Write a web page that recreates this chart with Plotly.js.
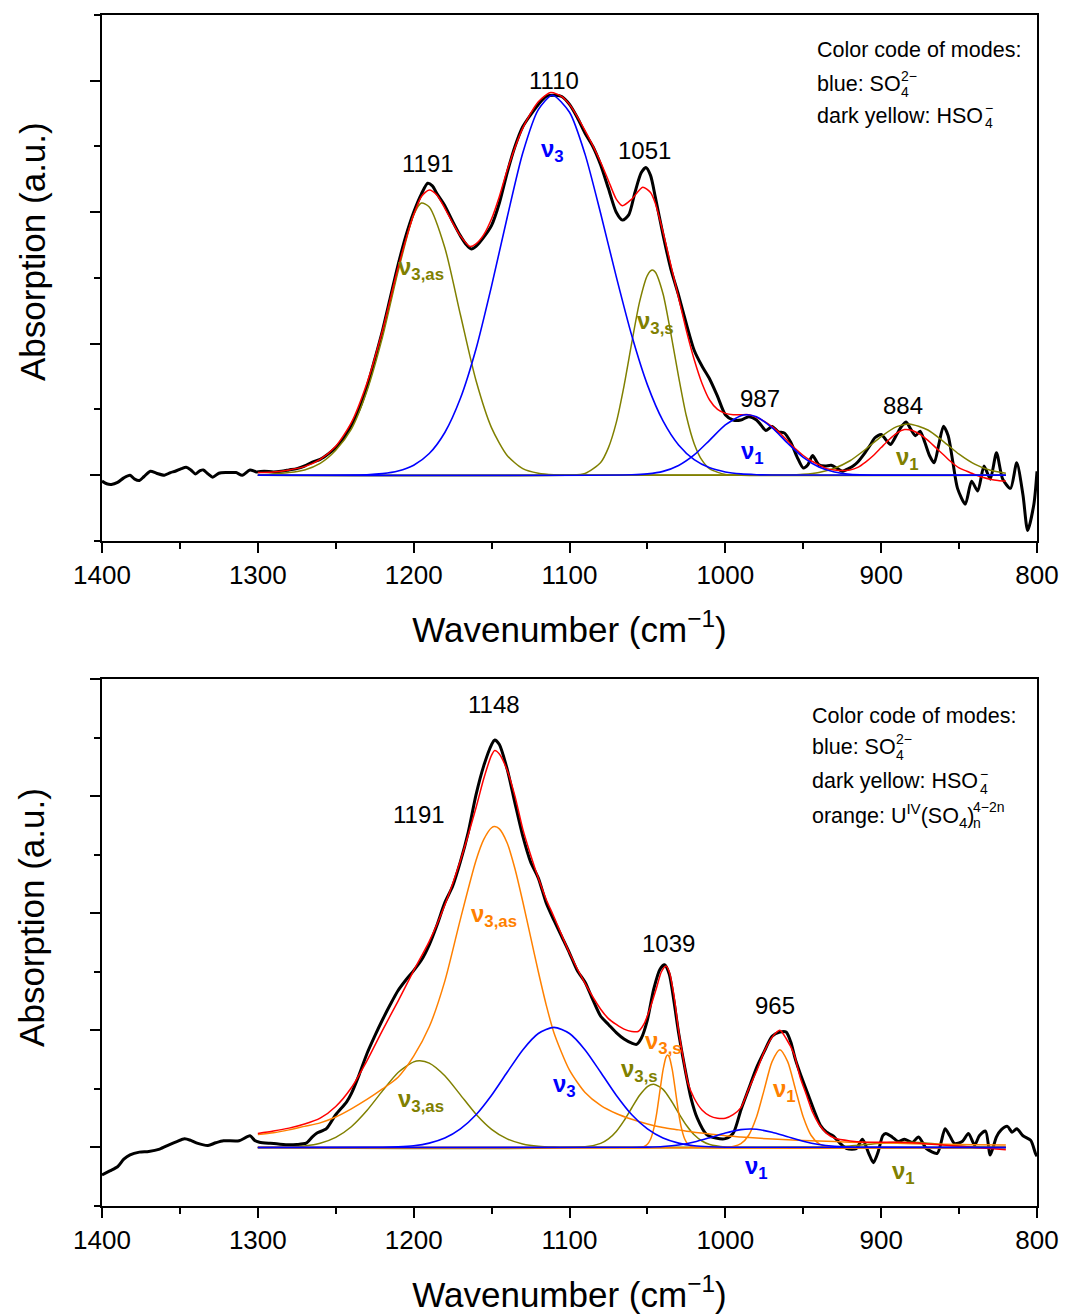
<!DOCTYPE html>
<html>
<head>
<meta charset="utf-8">
<script src="https://cdn.plot.ly/plotly-3.0.1.min.js"></script>
<style>html,body{margin:0;padding:0;background:#fff;}#chart{width:1065px;height:1314px;}</style>
</head>
<body>
<div id="chart"></div>
<script>
// ---------- TOP PANEL DATA ----------
const topExpWn = [1400,1397,1394,1390,1386,1382,1379,1376,1373,1369,1365,1360,1356,1353,1349,1346,1343,1340,1337,1335,1332,1329,1325,1320,1314,1310,1305,1301,1296,1290,1285,1280,1275,1270,1265,1260,1255,1250,1245,1240,1235,1230,1225,1220,1215,1210,1205,1200,1195,1191,1188,1185,1180,1175,1170,1166,1163,1160,1155,1150,1145,1140,1135,1130,1125,1120,1115,1110,1105,1100,1095,1090,1085,1080,1075,1070,1066,1062,1058,1054,1051,1048,1045,1040,1035,1030,1025,1020,1015,1010,1005,1000,995,990,985,980,977,974,970,966,962,958,954,950,947,944,940,936,932,928,925,921,918,915,911,907,904,900,897,894,890,887,884,881,878,875,872,869,866,863,860,857,854,851,846,842,838,834,830,826,822,817,813,809,806,802,800];
const topExpAbs = [-0.045,-0.065,-0.07,-0.055,-0.02,0.0,-0.03,-0.04,-0.01,0.03,0.015,0.0,0.02,0.03,0.05,0.06,0.04,0.01,0.035,0.04,0.01,-0.015,0.015,0.02,0.02,0.0,0.04,0.025,0.03,0.025,0.03,0.04,0.05,0.07,0.1,0.12,0.16,0.21,0.28,0.38,0.5,0.67,0.88,1.1,1.35,1.6,1.82,2.0,2.14,2.22,2.2,2.14,2.05,1.93,1.82,1.75,1.72,1.74,1.81,1.9,2.07,2.3,2.5,2.65,2.74,2.82,2.88,2.89,2.88,2.82,2.72,2.6,2.5,2.36,2.18,2.0,1.94,1.98,2.15,2.3,2.34,2.28,2.12,1.83,1.57,1.37,1.15,0.95,0.83,0.73,0.6,0.46,0.42,0.42,0.445,0.42,0.38,0.34,0.37,0.33,0.32,0.25,0.14,0.055,0.08,0.15,0.08,0.07,0.075,0.05,0.03,0.05,0.07,0.1,0.16,0.23,0.285,0.31,0.27,0.234,0.31,0.37,0.405,0.35,0.3,0.335,0.25,0.15,0.094,0.234,0.373,0.3,0.1,-0.1,-0.22,-0.045,-0.12,0.07,-0.03,0.17,-0.03,-0.1,0.094,-0.15,-0.42,-0.22,0.03];

const topFitWn = [1300,1290,1280,1270,1260,1250,1240,1230,1220,1210,1200,1195,1190,1185,1180,1175,1170,1164,1160,1155,1150,1145,1140,1130,1120,1112,1105,1100,1090,1080,1075,1070,1066,1060,1053,1048,1045,1040,1035,1030,1025,1020,1015,1010,1005,1000,995,990,985,980,975,970,965,960,955,950,945,940,935,930,925,920,915,910,905,900,895,890,885,880,875,870,865,860,855,850,845,840,835,830,825,820];
const topFitAbs = [0.02,0.025,0.04,0.065,0.12,0.22,0.40,0.70,1.10,1.58,1.98,2.12,2.17,2.13,2.03,1.92,1.82,1.74,1.76,1.83,1.95,2.12,2.32,2.64,2.84,2.91,2.88,2.82,2.62,2.38,2.24,2.1,2.05,2.1,2.19,2.15,2.07,1.85,1.6,1.35,1.1,0.88,0.7,0.57,0.5,0.47,0.46,0.46,0.46,0.44,0.41,0.37,0.32,0.26,0.2,0.15,0.11,0.08,0.05,0.04,0.035,0.04,0.06,0.1,0.15,0.21,0.27,0.32,0.347,0.34,0.31,0.265,0.21,0.155,0.1,0.055,0.03,0.005,-0.015,-0.03,-0.04,-0.045];

// HSO4- nu3,as (dark yellow)
const topHso4Nu3asWn = [1300,1290,1280,1270,1260,1250,1240,1230,1220,1210,1200,1195,1190,1180,1170,1160,1150,1140,1130,1120,1110,1100,820];
const topHso4Nu3asAbs = [0,0.01,0.02,0.04,0.09,0.19,0.35,0.64,1.05,1.55,1.98,2.07,2.04,1.73,1.22,0.72,0.36,0.15,0.05,0.015,0.003,0,0];
// SO4 2- nu3 (blue)
const topSo4Nu3Wn = [1300,1230,1220,1210,1200,1190,1180,1170,1160,1150,1140,1130,1120,1111,1100,1090,1080,1070,1060,1050,1040,1030,1020,1010,1000,990,980,970,820];
const topSo4Nu3Abs = [0,0.004,0.012,0.032,0.076,0.165,0.325,0.585,0.96,1.44,1.96,2.45,2.78,2.89,2.76,2.44,1.99,1.51,1.06,0.687,0.413,0.23,0.118,0.056,0.025,0.01,0.004,0.001,0];
// HSO4- nu3,s (dark yellow)
const topHso4Nu3sWn = [1300,1100,1090,1080,1075,1070,1065,1060,1055,1050,1047,1045,1040,1035,1030,1025,1020,1015,1010,1000,990,820];
const topHso4Nu3sAbs = [0,0.001,0.014,0.097,0.21,0.40,0.68,1.01,1.32,1.52,1.56,1.545,1.38,1.08,0.75,0.45,0.24,0.114,0.048,0.006,0,0];
// SO4 2- nu1 (blue)
const topSo4Nu1Wn = [1300,1060,1050,1040,1030,1020,1010,1000,990,986,980,970,960,950,940,930,920,910,900,820];
const topSo4Nu1Abs = [0,0.003,0.01,0.029,0.074,0.154,0.267,0.382,0.453,0.46,0.444,0.361,0.243,0.135,0.062,0.024,0.0075,0.002,0,0];
// HSO4- nu1 (dark yellow)
const topHso4Nu1Wn = [1300,960,950,940,930,920,910,900,890,882,870,860,850,840,830,820];
const topHso4Nu1Abs = [0,0.002,0.007,0.021,0.053,0.11,0.197,0.294,0.369,0.39,0.344,0.256,0.16,0.084,0.037,0.014];

// ---------- BOTTOM PANEL DATA ----------
const botExpWn = [1400,1395,1390,1386,1382,1376,1370,1363,1357,1352,1347,1343,1339,1332,1327,1322,1312,1305,1302,1299,1292,1288,1280,1275,1269,1265,1262,1256,1250,1243,1240,1235,1230,1225,1220,1215,1210,1205,1200,1195,1190,1185,1180,1175,1170,1165,1160,1155,1150,1148,1145,1140,1135,1130,1125,1120,1115,1110,1105,1100,1095,1090,1085,1080,1075,1070,1065,1060,1057,1054,1050,1046,1042,1039,1036,1033,1030,1026,1022,1018,1012,1006,1000,995,990,985,980,975,970,965,961,958,955,950,946,942,939,935,931,926,922,916,912,908,905,902,899,897,893,889,885,880,876,871,864,859,856,853,848,844,840,837,833,830,826,823,819,816,813,809,804,801,800];
const botExpAbs = [-0.235,-0.2,-0.165,-0.1,-0.063,-0.04,-0.034,-0.014,0.022,0.05,0.074,0.06,0.037,0.017,0.04,0.057,0.057,0.1,0.06,0.045,0.035,0.031,0.022,0.025,0.037,0.09,0.123,0.16,0.28,0.39,0.46,0.62,0.8,0.95,1.09,1.22,1.34,1.43,1.51,1.6,1.73,1.9,2.09,2.23,2.44,2.69,3.01,3.26,3.44,3.48,3.44,3.23,2.94,2.66,2.44,2.3,2.09,1.94,1.8,1.66,1.51,1.41,1.26,1.12,1.05,0.98,0.925,0.89,0.88,0.93,1.09,1.35,1.52,1.56,1.48,1.25,0.98,0.68,0.42,0.25,0.11,0.08,0.075,0.12,0.32,0.5,0.68,0.82,0.95,0.985,0.985,0.9,0.75,0.56,0.42,0.28,0.19,0.13,0.1,0.03,-0.01,-0.01,0.07,-0.05,-0.13,-0.04,0.1,0.12,0.09,0.05,0.07,0.043,0.09,-0.009,-0.05,0.16,0.1,0.034,0.05,0.12,0.02,0.1,0.14,-0.065,0.09,0.15,0.18,0.13,0.16,0.1,0.06,-0.05,-0.075];

const botFitWn = [1300,1290,1280,1270,1260,1250,1240,1230,1220,1210,1200,1190,1180,1170,1160,1155,1150,1148,1145,1140,1135,1130,1125,1120,1115,1110,1100,1090,1080,1075,1070,1065,1060,1056,1052,1048,1044,1041,1038,1036,1033,1030,1027,1024,1020,1015,1010,1005,1000,995,990,985,980,975,970,965,961,956,952,948,944,940,935,930,920,910,900,890,880,870,860,850,840,830,820];
const botFitAbs = [0.12,0.14,0.165,0.2,0.25,0.35,0.51,0.74,1.0,1.25,1.51,1.76,2.07,2.45,2.9,3.15,3.35,3.39,3.36,3.22,3.0,2.72,2.5,2.3,2.12,1.97,1.66,1.4,1.18,1.1,1.05,1.01,0.99,0.99,1.06,1.2,1.37,1.5,1.55,1.5,1.3,1.0,0.76,0.55,0.42,0.32,0.27,0.25,0.25,0.28,0.34,0.5,0.65,0.82,0.94,1.0,0.93,0.8,0.6,0.45,0.3,0.2,0.12,0.08,0.055,0.045,0.045,0.045,0.04,0.03,0.02,0.01,0.0,-0.01,-0.02];

// U(IV) sulfate complex nu3,as (orange)
const botUNu3asWn = [1300,1290,1280,1270,1260,1250,1240,1230,1220,1210,1200,1190,1180,1170,1160,1155,1150,1148,1145,1140,1135,1130,1125,1120,1115,1110,1100,1090,1080,1070,1060,1050,1040,1030,1020,1010,1000,990,980,960,940,920,900,880,860,840,820];
const botUNu3asAbs = [0.11,0.125,0.15,0.18,0.21,0.26,0.33,0.41,0.5,0.6,0.78,1.03,1.42,1.95,2.45,2.63,2.73,2.74,2.72,2.6,2.38,2.1,1.8,1.5,1.22,0.98,0.66,0.47,0.36,0.29,0.24,0.2,0.17,0.15,0.13,0.115,0.1,0.09,0.08,0.065,0.055,0.045,0.038,0.032,0.027,0.023,0.02];
// HSO4- nu3,as (dark yellow)
const botHso4Nu3asWn = [1300,1290,1280,1270,1260,1250,1240,1230,1220,1210,1200,1196,1190,1180,1170,1160,1150,1140,1130,1120,1110,1100,820];
const botHso4Nu3asAbs = [0,0.001,0.004,0.013,0.036,0.086,0.177,0.315,0.483,0.64,0.731,0.74,0.72,0.612,0.449,0.284,0.155,0.073,0.03,0.01,0.003,0.001,0];
// SO4 2- nu3 (blue)
const botSo4Nu3Wn = [1300,1220,1210,1200,1190,1180,1170,1160,1150,1140,1130,1120,1110,1100,1090,1080,1070,1060,1050,1040,1030,1020,1010,1000,820];
const botSo4Nu3Abs = [0,0.002,0.006,0.015,0.037,0.08,0.158,0.279,0.446,0.642,0.833,0.973,1.025,0.973,0.833,0.642,0.446,0.279,0.158,0.08,0.037,0.015,0.006,0.002,0];
// HSO4- nu3,s (dark yellow)
const botHso4Nu3sWn = [1300,1090,1080,1075,1070,1065,1060,1055,1050,1046,1040,1035,1030,1025,1020,1015,1010,1000,990,820];
const botHso4Nu3sAbs = [0,0.005,0.035,0.073,0.137,0.229,0.339,0.445,0.52,0.54,0.496,0.405,0.294,0.189,0.108,0.055,0.025,0.004,0,0];
// U(IV) nu3,s (orange)
const botUNu3sWn = [1300,1056,1054,1052,1050,1048,1046,1044,1042,1040,1038,1037,1036,1034,1032,1030,1028,1026,1024,1022,1020,820];
const botUNu3sAbs = [0,0.0006,0.002,0.009,0.027,0.07,0.156,0.296,0.48,0.66,0.774,0.79,0.774,0.66,0.48,0.296,0.156,0.07,0.027,0.009,0.002,0];
// U(IV) nu1 (orange)
const botUNu1Wn = [1300,1000,995,990,985,980,975,970,965,960,955,950,945,940,935,930,820];
const botUNu1Abs = [0,0.001,0.008,0.032,0.104,0.259,0.496,0.733,0.835,0.733,0.496,0.259,0.104,0.032,0.008,0.001,0];
// SO4 2- nu1 (blue)
const botSo4Nu1Wn = [1300,1060,1050,1040,1030,1020,1010,1000,990,984,980,970,960,950,940,930,920,910,820];
const botSo4Nu1Abs = [0,0.001,0.003,0.008,0.021,0.046,0.083,0.123,0.152,0.157,0.155,0.13,0.091,0.053,0.025,0.01,0.003,0.001,0];
// HSO4- nu1 (dark yellow)
const botHso4Nu1Wn = [1300,950,940,930,920,910,900,890,885,880,870,860,850,840,830,820];
const botHso4Nu1Abs = [0,0.0006,0.002,0.0055,0.013,0.024,0.036,0.044,0.045,0.044,0.036,0.024,0.013,0.0055,0.002,0.0006];

// peak labels
const topPeakText = ['1191','1110','1051','987','884'];
const topPeakX = [1191,1110,1052,978,886];
const topPeakY = [2.37,3.0,2.47,0.585,0.53];
const botPeakText = ['1148','1191','1039','965'];
const botPeakX = [1148.6,1196.8,1036.3,968.3];
const botPeakY = [3.78,2.84,1.74,1.21];

// ---------- STYLE ----------
const FONT = 'Liberation Sans, Arial, Helvetica, sans-serif';
const BLUE = '#0000ff', OLIVE = '#808000', ORANGE = '#ff8000', RED = '#ff0000', BLACK = '#000000';

function line(x, y, color, width, xa, ya) {
  return {x: x, y: y, type: 'scatter', mode: 'lines', xaxis: xa, yaxis: ya,
    line: {color: color, width: width, shape: 'spline', smoothing: 0.7},
    hoverinfo: 'skip', showlegend: false};
}

const traces = [
  line(topExpWn, topExpAbs, BLACK, 3, 'x', 'y'),
  line(topHso4Nu3asWn, topHso4Nu3asAbs, OLIVE, 1.5, 'x', 'y'),
  line(topHso4Nu3sWn, topHso4Nu3sAbs, OLIVE, 1.5, 'x', 'y'),
  line(topHso4Nu1Wn, topHso4Nu1Abs, OLIVE, 1.5, 'x', 'y'),
  line(topFitWn, topFitAbs, RED, 1.5, 'x', 'y'),
  line(topSo4Nu3Wn, topSo4Nu3Abs, BLUE, 1.6, 'x', 'y'),
  line(topSo4Nu1Wn, topSo4Nu1Abs, BLUE, 1.6, 'x', 'y'),

  line(botExpWn, botExpAbs, BLACK, 3, 'x2', 'y2'),
  line(botHso4Nu3asWn, botHso4Nu3asAbs, OLIVE, 1.5, 'x2', 'y2'),
  line(botHso4Nu3sWn, botHso4Nu3sAbs, OLIVE, 1.5, 'x2', 'y2'),
  line(botHso4Nu1Wn, botHso4Nu1Abs, OLIVE, 1.5, 'x2', 'y2'),
  line(botUNu3asWn, botUNu3asAbs, ORANGE, 1.5, 'x2', 'y2'),
  line(botUNu3sWn, botUNu3sAbs, ORANGE, 1.5, 'x2', 'y2'),
  line(botUNu1Wn, botUNu1Abs, ORANGE, 1.5, 'x2', 'y2'),
  line(botFitWn, botFitAbs, RED, 1.5, 'x2', 'y2'),
  line(botSo4Nu3Wn, botSo4Nu3Abs, BLUE, 1.6, 'x2', 'y2'),
  line(botSo4Nu1Wn, botSo4Nu1Abs, BLUE, 1.6, 'x2', 'y2')
];

function xAxisDef(anchor) {
  return {
    anchor: anchor, domain: [0, 1], range: [1400, 800], autorange: false,
    showline: true, linewidth: 2, linecolor: BLACK, mirror: true,
    ticks: 'outside', ticklen: 10, tickwidth: 2, tickcolor: BLACK,
    tick0: 800, dtick: 100, ticklabelstandoff: 0,
    tickfont: {family: FONT, size: 26, color: BLACK},
    showgrid: false, zeroline: false,
    minor: {ticks: 'outside', ticklen: 6, tickwidth: 2, tickcolor: BLACK, dtick: 50, tick0: 800, showgrid: false},
    title: {text: 'Wavenumber (cm<sup>−1</sup>)', font: {family: FONT, size: 35, color: BLACK}, standoff: 28}
  };
}
function yAxisDef(anchor, domain, range) {
  return {
    anchor: anchor, domain: domain, range: range, autorange: false,
    showline: true, linewidth: 2, linecolor: BLACK, mirror: true,
    ticks: 'outside', ticklen: 10, tickwidth: 2, tickcolor: BLACK,
    tick0: 0, dtick: 1, showticklabels: false,
    showgrid: false, zeroline: false,
    minor: {ticks: 'outside', ticklen: 6, tickwidth: 2, tickcolor: BLACK, dtick: 0.5, tick0: 0, showgrid: false}
  };
}

const ann = [];
function addText(xa, ya, x, y, text, size, color, anchor) {
  ann.push({xref: xa, yref: ya, x: x, y: y, text: text, showarrow: false,
    xanchor: anchor || 'center', yanchor: 'middle',
    font: {family: FONT, size: size, color: color}});
}
// y-axis titles (placed as rotated text so they sit where the reference has them)
const Y_TITLE = 'Absorption (a.u.)';
ann.push({xref: 'paper', yref: 'paper', x: -0.0749, y: 0.8018, text: Y_TITLE, textangle: -90,
  showarrow: false, xanchor: 'center', yanchor: 'middle', font: {family: FONT, size: 35, color: BLACK}});
ann.push({xref: 'paper', yref: 'paper', x: -0.0749, y: 0.2427, text: Y_TITLE, textangle: -90,
  showarrow: false, xanchor: 'center', yanchor: 'middle', font: {family: FONT, size: 35, color: BLACK}});

topPeakText.forEach((t, i) => addText('x', 'y', topPeakX[i], topPeakY[i], t, 24, BLACK));
botPeakText.forEach((t, i) => addText('x2', 'y2', botPeakX[i], botPeakY[i], t, 24, BLACK));

// mode labels
addText('x', 'y', 1110.8, 2.47, '<b>ν<sub>3</sub></b>', 24, BLUE);
addText('x', 'y', 1195.5, 1.57, '<b>ν<sub>3,as</sub></b>', 24, OLIVE);
addText('x', 'y', 1045, 1.16, '<b>ν<sub>3,s</sub></b>', 24, OLIVE);
addText('x', 'y', 982.4, 0.175, '<b>ν<sub>1</sub></b>', 24, BLUE);
addText('x', 'y', 883, 0.13, '<b>ν<sub>1</sub></b>', 24, OLIVE);

addText('x2', 'y2', 1148.6, 1.98, '<b>ν<sub>3,as</sub></b>', 24, ORANGE);
addText('x2', 'y2', 1195.5, 0.40, '<b>ν<sub>3,as</sub></b>', 24, OLIVE);
addText('x2', 'y2', 1103, 0.53, '<b>ν<sub>3</sub></b>', 24, BLUE);
addText('x2', 'y2', 1039.5, 0.9, '<b>ν<sub>3,s</sub></b>', 24, ORANGE);
addText('x2', 'y2', 1055, 0.66, '<b>ν<sub>3,s</sub></b>', 24, OLIVE);
addText('x2', 'y2', 961.8, 0.49, '<b>ν<sub>1</sub></b>', 24, ORANGE);
addText('x2', 'y2', 979.8, -0.17, '<b>ν<sub>1</sub></b>', 24, BLUE);
addText('x2', 'y2', 885.4, -0.21, '<b>ν<sub>1</sub></b>', 24, OLIVE);

// colour-code notes (top)
addText('x', 'y', 942.3, 3.235, 'Color code of modes:', 21.5, BLACK, 'left');
addText('x', 'y', 942.3, 2.975, 'blue: SO', 21.5, BLACK, 'left');
addText('x', 'y', 888.5, 3.035, '2−', 14, BLACK, 'left');
addText('x', 'y', 888.5, 2.915, '4', 14, BLACK, 'left');
addText('x', 'y', 942.3, 2.735, 'dark yellow: HSO', 21.5, BLACK, 'left');
addText('x', 'y', 834.5, 2.79, '−', 14, BLACK, 'left');
addText('x', 'y', 834.5, 2.675, '4', 14, BLACK, 'left');

// colour-code notes (bottom)
addText('x2', 'y2', 945.7, 3.68, 'Color code of modes:', 21.5, BLACK, 'left');
addText('x2', 'y2', 945.7, 3.42, 'blue: SO', 21.5, BLACK, 'left');
addText('x2', 'y2', 891.9, 3.485, '2−', 14, BLACK, 'left');
addText('x2', 'y2', 891.9, 3.355, '4', 14, BLACK, 'left');
addText('x2', 'y2', 945.7, 3.128, 'dark yellow: HSO', 21.5, BLACK, 'left');
addText('x2', 'y2', 838, 3.19, '−', 14, BLACK, 'left');
addText('x2', 'y2', 838, 3.06, '4', 14, BLACK, 'left');
addText('x2', 'y2', 945.7, 2.838, 'orange: U<sup>IV</sup>(SO<sub>4</sub>)', 21.5, BLACK, 'left');
addText('x2', 'y2', 842.5, 2.906, '4−2n', 14, BLACK, 'left');
addText('x2', 'y2', 842.5, 2.77, 'n', 14, BLACK, 'left');

const layout = {
  width: 1065, height: 1314,
  margin: {l: 102, r: 28, t: 15, b: 108},
  paper_bgcolor: '#ffffff', plot_bgcolor: '#ffffff',
  font: {family: FONT, color: BLACK},
  showlegend: false,
  xaxis: xAxisDef('y'),
  yaxis: yAxisDef('x', [0.5584, 1], [-0.5, 3.5]),
  xaxis2: xAxisDef('y2'),
  yaxis2: yAxisDef('x2', [0, 0.4425], [-0.5, 4.0]),
  annotations: ann
};

Plotly.newPlot('chart', traces, layout, {displayModeBar: false, staticPlot: true});
</script>
</body>
</html>
